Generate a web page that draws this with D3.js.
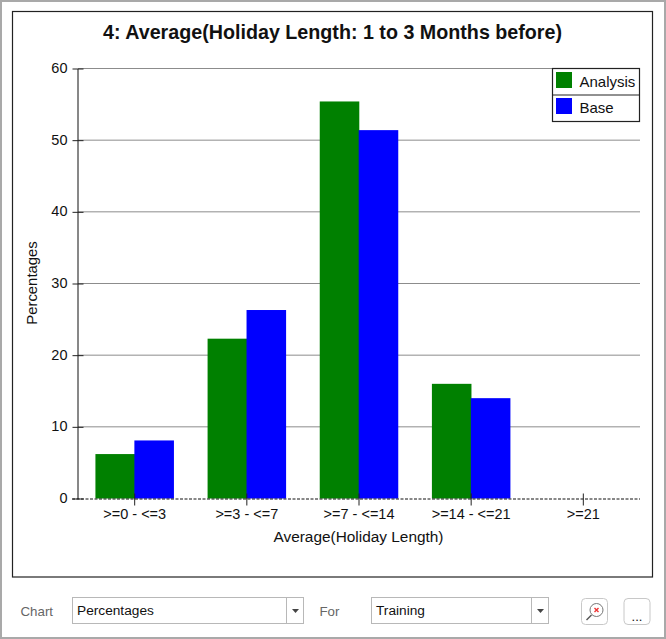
<!DOCTYPE html>
<html><head><meta charset="utf-8">
<script src="https://cdnjs.cloudflare.com/ajax/libs/d3/7.8.5/d3.min.js"></script>
<style>html,body{margin:0;padding:0;background:#fff;overflow:hidden}svg{display:block}text{font-family:"Liberation Sans",Arial,sans-serif;fill:#111}</style>
</head><body><div id="c"></div>
<script>
const categories=[">=0 - <=3",">=3 - <=7",">=7 - <=14",">=14 - <=21",">=21"];
const analysis=[6.2,22.3,55.4,16,0];
const base=[8.1,26.3,51.4,14,0];
const seriesNames=["Analysis","Base"];
const seriesColors=["#008000","#0000ff"];
const yTicks=[0,10,20,30,40,50,60];
const title="4: Average(Holiday Length: 1 to 3 Months before)";
const xTitle="Average(Holiday Length)";
const yTitle="Percentages";

const W=666,H=639;
const svg=d3.select("#c").append("svg").attr("width",W).attr("height",H);
// window chrome
svg.append("rect").attr("x",1).attr("y",1).attr("width",W-2).attr("height",H-2).attr("fill","#fff").attr("stroke","#a9a9a9").attr("stroke-width",2);
svg.append("rect").attr("x",12.5).attr("y",11.5).attr("width",640).attr("height",565.5).attr("fill","#fff").attr("stroke","#222").attr("stroke-width",1.2);

const x0=d3.scaleBand().domain(categories).range([78.6,639.4]).paddingInner(0.3).paddingOuter(0.15);
const x1=d3.scaleBand().domain(seriesNames).range([0,x0.bandwidth()]);
const y=d3.scaleLinear().domain([0,60]).range([498.5,68.5]);

// gridlines
svg.append("g").selectAll("line").data(yTicks.filter(d=>d>0)).join("line")
 .attr("x1",78).attr("x2",640).attr("y1",d=>y(d)).attr("y2",d=>y(d)).attr("stroke","#8c8c8c").attr("stroke-width",1);

// bars
const vals=[analysis,base];
seriesNames.forEach((s,i)=>{
 svg.append("g").selectAll("rect").data(categories.map((c,k)=>({c,v:vals[i][k]})).filter(d=>d.v>0)).join("rect")
  .attr("x",d=>x0(d.c)+x1(s)-(i?0.3:0)).attr("y",d=>y(d.v)).attr("width",x1.bandwidth()+0.3).attr("height",d=>y(0)-y(d.v))
  .attr("fill",seriesColors[i]);
});

// y axis
const yAxis=d3.axisLeft(y).tickValues(yTicks).tickSize(0).tickPadding(10).tickFormat(d3.format("d"));
const gy=svg.append("g").attr("transform","translate(77.5,0)").call(yAxis);
gy.select(".domain").attr("stroke","#111");
gy.selectAll("text").attr("font-size",14.5).attr("dy","0.28em").attr("font-family",'"Liberation Sans",Arial,sans-serif').attr("fill","#222").attr("text-anchor","end");
gy.selectAll(".tick").append("line").attr("x1",-5).attr("x2",6).attr("stroke","#222");

// x axis
const xAxis=d3.axisBottom(x0).tickSize(0).tickPadding(10);
const gx=svg.append("g").attr("transform","translate(0,498.5)").call(xAxis);
gx.select(".domain").attr("stroke","#111").attr("stroke-dasharray","3,1.5").attr("d","M72,0.5H640");
gx.selectAll("text").attr("font-size",14.5).attr("font-family",'"Liberation Sans",Arial,sans-serif').attr("fill","#222");
gx.selectAll(".tick").append("line").attr("y1",-5).attr("y2",7).attr("stroke","#222");

// titles
svg.append("text").attr("x",332.5).attr("y",39).attr("text-anchor","middle").attr("font-size",19.7).attr("font-weight","bold").text(title);
svg.append("text").attr("x",358.5).attr("y",542).attr("text-anchor","middle").attr("font-size",15.4).attr("fill","#222").text(xTitle);
svg.append("text").attr("transform","translate(37,283) rotate(-90)").attr("text-anchor","middle").attr("font-size",14.9).attr("fill","#222").text(yTitle);

// legend
const lg=svg.append("g").attr("transform","translate(552.5,68.5)");
lg.append("rect").attr("width",87).attr("height",53).attr("fill","#fff").attr("stroke","#222").attr("stroke-width",1.2);
lg.append("line").attr("x1",0).attr("x2",87).attr("y1",26.5).attr("y2",26.5).attr("stroke","#222");
seriesNames.forEach((s,i)=>{
 const g=lg.append("g").attr("transform",`translate(0,${i*26})`);
 g.append("rect").attr("x",3.5).attr("y",3.5).attr("width",16).attr("height",16).attr("fill",seriesColors[i]);
 g.append("text").attr("x",27).attr("y",18).attr("font-size",15).attr("fill","#222").text(s);
});

// control strip
function label(t,xp){svg.append("text").attr("x",xp).attr("y",616).attr("font-size",13.3).style("fill","#666").text(t);}
label("Chart",20.5);label("For",319.5);
function combo(xp,w,t){
 svg.append("rect").attr("x",xp+.5).attr("y",597.5).attr("width",w).attr("height",26).attr("fill","#fff").attr("stroke","#b8b8b8");
 svg.append("line").attr("x1",xp+w-16.5).attr("x2",xp+w-16.5).attr("y1",597.5).attr("y2",623.5).attr("stroke","#b8b8b8");
 svg.append("path").attr("d",`M${xp+w-11},609h7l-3.5,4z`).attr("fill","#444");
 svg.append("text").attr("x",xp+5).attr("y",615).attr("font-size",13.7).attr("fill","#222").text(t);
}
combo(72,231,"Percentages");combo(371,177,"Training");
function btn(xp){svg.append("rect").attr("x",xp+.5).attr("y",598.5).attr("width",26).attr("height",26).attr("rx",4).attr("fill","#fff").attr("stroke","#c8c8c8");}
btn(581);btn(623.5);
svg.append("circle").attr("cx",596.5).attr("cy",610).attr("r",6.5).attr("fill","#fff").attr("stroke","#777");
svg.append("line").attr("x1",591.5).attr("y1",615).attr("x2",586.5).attr("y2",620).attr("stroke","#555").attr("stroke-width",1.5);
svg.append("path").attr("d","M594.5,608l4,4M598.5,608l-4,4").attr("stroke","#e33").attr("stroke-width",1.4);
svg.append("text").attr("x",637).attr("y",621).attr("text-anchor","middle").attr("font-size",13).attr("fill","#222").text("...");
</script></body></html>
